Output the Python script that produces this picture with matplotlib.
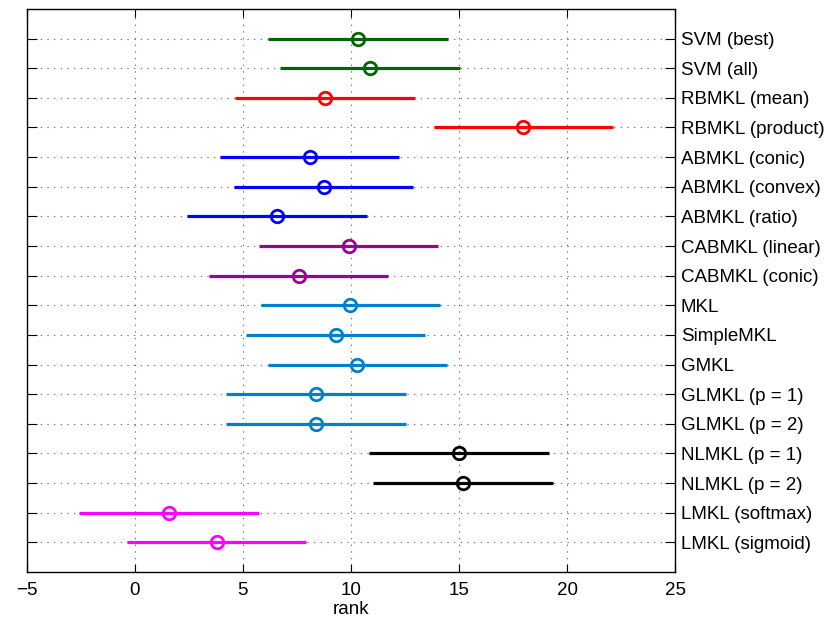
import numpy as np
import matplotlib
matplotlib.use("Agg")
import matplotlib.pyplot as plt

# metody i średnie rangi
methods = ['SVM (best)', 'SVM (all)', 'RBMKL (mean)', 'RBMKL (product)',
           'ABMKL (conic)', 'ABMKL (convex)', 'ABMKL (ratio)',
           'CABMKL (linear)', 'CABMKL (conic)', 'MKL', 'SimpleMKL', 'GMKL',
           'GLMKL (p = 1)', 'GLMKL (p = 2)', 'NLMKL (p = 1)', 'NLMKL (p = 2)',
           'LMKL (softmax)', 'LMKL (sigmoid)']
mean_rank = [10.34, 10.89, 8.80, 17.98, 8.09, 8.74, 6.58, 9.89, 7.58,
             9.98, 9.29, 10.30, 8.39, 8.39, 14.99, 15.19, 1.59, 3.79]
# połowa krytycznej różnicy
half_cd = 4.15
colors = ['#006600', '#006600', '#ff0000', '#ff0000',
          '#0000ff', '#0000ff', '#0000ff', '#990099', '#990099',
          '#0080cc', '#0080cc', '#0080cc', '#0080cc', '#0080cc',
          '#000000', '#000000', '#ff00ff', '#ff00ff']
x_ticks = [-5, 0, 5, 10, 15, 20, 25]

plt.rcParams['font.family'] = ['Liberation Sans', 'DejaVu Sans']

fig = plt.figure(figsize=(8.31, 6.23), dpi=100)
ax = fig.add_axes([0.0319, 0.0819, 0.7807, 0.9037])

n = len(methods)
ypos = np.arange(1, n + 1)
for y, m, c in zip(ypos, mean_rank, colors):
    ax.plot([m - half_cd, m + half_cd], [y, y], color=c, lw=2.3, solid_capstyle='butt', zorder=3)
    ax.plot(m, y, 'o', ms=9, mfc='none', mec=c, mew=2.0, zorder=4)

ax.set_xlim(-5, 25)
ax.set_ylim(n + 1, 0)
ax.set_xticks(x_ticks)
ax.set_xticklabels([str(t).replace('-', '\u2212') for t in x_ticks])
ax.set_yticks(ypos)
ax.set_yticklabels(methods)
ax.yaxis.tick_right()
ax.tick_params(axis='y', which='both', left=True, right=True, labelleft=False,
               labelright=True, direction='in', length=7, labelsize=13.5, pad=4)
ax.tick_params(axis='x', which='both', top=True, bottom=True, direction='in',
               length=6, labelsize=13.5, pad=7.5)
ax.set_xlabel('rank', fontsize=13.5, labelpad=1)
ax.grid(True, linestyle=(0, (1, 5)), color='#555555', lw=0.8)
ax.set_axisbelow(True)
for s in ax.spines.values():
    s.set_linewidth(1.0)

fig.savefig('out.png', dpi=100)
